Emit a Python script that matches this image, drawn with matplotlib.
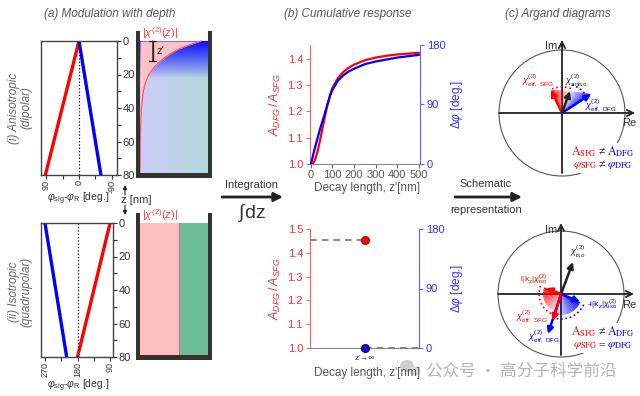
import numpy as np
import matplotlib.pyplot as plt
from matplotlib.patches import Polygon, Wedge, Arc, Rectangle, FancyArrowPatch, Ellipse

plt.rcParams['font.family'] = ['Liberation Sans', 'DejaVu Sans']
plt.rcParams['mathtext.fontset'] = 'custom'
plt.rcParams['mathtext.rm'] = 'Liberation Sans'
plt.rcParams['mathtext.it'] = 'Liberation Sans:italic'
plt.rcParams['mathtext.bf'] = 'Liberation Sans:bold'

# ---- data ----
# (a) phase offset vs depth
depth_nm = [0, 80]
z_ticks = [0, 20, 40, 60, 80]
aniso_red = [0, 92]
aniso_blue = [0, -60]
iso_red = [90, 180]
iso_blue = [270, 210]
# |chi2(z)| profile in the top cell (fraction of cell width vs depth)
prof_z = [0, 1, 2, 3, 5, 7, 10, 13, 16, 20, 25, 30, 35, 40, 50, 60, 80]
prof_w = [0.90, 0.82, 0.75, 0.68, 0.56, 0.47, 0.36, 0.27, 0.20, 0.13, 0.08, 0.05, 0.035, 0.022, 0.01, 0.005, 0.0]

# (b) cumulative response
decay_z = [0, 10, 20, 30, 40, 50, 60, 75, 90, 100, 125, 150, 175, 200, 250, 300, 350, 400, 450, 500]
amp_ratio = [1.0, 1.002, 1.018, 1.045, 1.08, 1.12, 1.16, 1.22, 1.265, 1.29, 1.327, 1.35, 1.366,
             1.378, 1.395, 1.405, 1.412, 1.417, 1.420, 1.423]
dphi = [0, 13, 26, 38, 50, 61, 71, 88, 104, 112, 126, 134, 140, 144, 151, 155, 158, 161, 163, 165]
inf_ratio = 1.454
inf_dphi = 0

# (c) Argand vectors, (Re, Im) tips
top_aniso = (8, 22)
top_sfg = (-11, 23)
top_dfg = (29, 19)
bot_iso = (12, 32)
bot_ik_sfg = (-15, 6)
bot_ik_dfg = (19, -8)
bot_sfg = (-8, -27)
bot_dfg = (-13, -40)

W, H = 640, 396
fig = plt.figure(figsize=(6.4, 3.96), dpi=100)
RED, BLUE = '#ff0000', '#0000ff'
GRAY = '#555555'


def px_axes(x0, y0, x1, y1):
    return fig.add_axes([x0 / W, 1 - y1 / H, (x1 - x0) / W, (y1 - y0) / H])


def ftext(x, y, s, **kw):
    kw.setdefault('ha', 'center')
    kw.setdefault('va', 'center')
    return fig.text(x / W, 1 - y / H, s, **kw)


def farrow(x0, y0, x1, y1, lw=1.0, ms=8, style='-|>'):
    fig.add_artist(FancyArrowPatch((x0 / W, 1 - y0 / H), (x1 / W, 1 - y1 / H),
                                   transform=fig.transFigure, arrowstyle=style,
                                   mutation_scale=ms, lw=lw, color='#222222',
                                   shrinkA=0, shrinkB=0))


# titles
ftext(110, 14, '(a) Modulation with depth', fontsize=8.5, style='italic', color=GRAY)
ftext(348, 14, '(b) Cumulative response', fontsize=8.5, style='italic', color=GRAY)
ftext(558, 14, '(c) Argand diagrams', fontsize=8.5, style='italic', color=GRAY)


# ---- (a) left phase plots ----
def phase_plot(rect, red, blue, xlim, xt, xminor, dot_x):
    ax = px_axes(*rect)
    ax.plot(red, depth_nm, color=RED, lw=2.4)
    ax.plot(blue, depth_nm, color=BLUE, lw=2.4)
    ax.axvline(dot_x, color='k', ls=':', lw=0.9)
    ax.set_xlim(*xlim)
    ax.set_ylim(80, 0)
    ax.set_xticks(xt)
    ax.set_xticks(xminor, minor=True)
    ax.set_xticklabels([str(v) for v in xt], rotation=90)
    ax.yaxis.tick_right()
    ax.set_yticks(z_ticks)
    ax.set_yticks([10, 30, 50, 70], minor=True)
    ax.tick_params(which='both', direction='out', colors='#333333', labelsize=8,
                   length=3, width=0.8, pad=1)
    ax.tick_params(axis='x', labelsize=6.5, pad=0.5)
    for s in ax.spines.values():
        s.set_color('#444444')
        s.set_linewidth(1.0)
    return ax


phase_plot((41, 41, 117, 175), aniso_red, aniso_blue, (104, -104), [90, 0, -90], [45, -45], 0)
phase_plot((41, 223, 113, 357), iso_red, iso_blue, (281, 82), [270, 180, 90], [225, 135], 180)

phi_lab = r'$\varphi_{\rm sig}$-$\varphi_{\rm R}$ [deg.]'
ftext(78, 199, phi_lab, fontsize=7.5, color='#333333')
ftext(78, 386, phi_lab, fontsize=7.5, color='#333333')
ftext(121, 200, 'z [nm]', fontsize=8, color='#333333', ha='left')
farrow(125, 195, 125, 185, lw=0.8, ms=6)
farrow(125, 205, 125, 215, lw=0.8, ms=6)

ftext(20, 108, '(i) Anisotropic\n(dipolar)', fontsize=8.5, style='italic', color='#666666',
      rotation=90, linespacing=1.1)
ftext(20, 292, '(ii) Isotropic\n(quadrupolar)', fontsize=8.5, style='italic', color='#666666',
      rotation=90, linespacing=1.1)


# ---- (a) cells ----
def cell_axes(y_top):
    ax = px_axes(136, y_top, 212, y_top + 147)
    ax.set_xlim(-4 / 68, 72 / 68)
    ax.set_ylim(137 / 1.675, -10 / 1.675)
    ax.axis('off')
    return ax


def cell_walls(ax):
    c = '#333333'
    ax.add_patch(Rectangle((-4 / 68, -6), 4 / 68, 88, color=c, zorder=5, lw=0))
    ax.add_patch(Rectangle((1.0, -6), 4 / 68, 88, color=c, zorder=5, lw=0))
    ax.add_patch(Rectangle((-4 / 68, 78.8), 72 / 68, 4, color=c, zorder=5, lw=0))


ax = cell_axes(31)
xx, zz = np.meshgrid(np.linspace(0, 1, 80), np.linspace(0, 80, 160))
base = np.stack([0.80 - 0.10 * xx, 0.80 + 0.05 * xx, 0.97 - 0.10 * xx], axis=-1)
wgt = np.clip(1 - zz / 22, 0, 1)[..., None] ** 0.9
img = base * (1 - wgt) + np.array([0.05, 0.05, 1.0]) * wgt
ax.imshow(img, extent=(0, 1, 80, 0), aspect='auto', interpolation='bilinear', zorder=1)
ax.fill_betweenx(prof_z, 0, prof_w, color='#ffc2c6', lw=0, zorder=2)
ax.plot(prof_w, prof_z, color='#ff5050', lw=0.8, zorder=3)
cell_walls(ax)
ax.annotate('', xy=(0.19, 0), xytext=(0.19, 12), zorder=6,
            arrowprops=dict(arrowstyle='|-|', color='#222222', lw=0.9, mutation_scale=2.5,
                            shrinkA=0, shrinkB=0))
ax.plot([0.19, 0.19], [0.5, 11.5], color='#222222', lw=0.9, zorder=6)
ax.text(0.24, 6, "z'", fontsize=8, color='#222222', va='center', zorder=6)
ax.text(0.03, -5, r'$|\chi^{(2)}(z)|$', fontsize=8, color='#ff4040', va='center', zorder=6)

ax = cell_axes(213)
ax.add_patch(Rectangle((0, 0), 0.57, 80, color='#ffbfbf', lw=0))
ax.add_patch(Rectangle((0.57, 0), 0.43, 80, color='#6cbf98', lw=0))
ax.plot([0.57, 0.57], [0, 80], color='#ff6060', lw=0.7)
cell_walls(ax)
ax.text(0.03, -5, r'$|\chi^{(2)}(z)|$', fontsize=8, color='#ff4040', va='center', zorder=6)

# ---- middle arrows ----
ftext(252, 185, 'Integration', fontsize=8, color='#333333')
farrow(222, 197, 283, 197, lw=2.0, ms=13)
ftext(252, 213, r'$\int$dz', fontsize=14, color='#333333')
ftext(486, 184, 'Schematic', fontsize=8, color='#333333')
farrow(455, 197, 522, 197, lw=2.0, ms=13)
ftext(486, 210, 'representation', fontsize=8, color='#333333')


# ---- (b) ----
def resp_axes(rect, ylim, yt):
    ax = px_axes(*rect)
    ax2 = ax.twinx()
    ax.set_ylim(*ylim)
    ax2.set_ylim(0, 180)
    ax.set_yticks(yt)
    ax.set_yticklabels(['%.1f' % v for v in yt])
    ax2.set_yticks([0, 90, 180])
    for a in (ax, ax2):
        a.spines['top'].set_visible(False)
    ax.spines['right'].set_visible(False)
    ax2.spines['left'].set_visible(False)
    ax2.spines['bottom'].set_visible(False)
    ax.spines['left'].set_color('#ff6060')
    ax2.spines['right'].set_color('#6060ff')
    ax.spines['bottom'].set_color('#888888')
    ax.tick_params(axis='y', colors='#ff6060', labelcolor='#ff3030', labelsize=8, length=3, pad=2)
    ax2.tick_params(axis='y', colors='#6060ff', labelcolor='#3030ff', labelsize=8, length=3, pad=2)
    ax.tick_params(axis='x', colors='#666666', labelcolor='#555555', labelsize=8, length=3, pad=1)
    ax.set_ylabel(r'$A_{DFG}\,/\,A_{SFG}$', color='#ff3030', fontsize=9)
    ax.yaxis.set_label_coords((283 - rect[0]) / (rect[2] - rect[0]), 0.5)
    ax2.set_ylabel(r'$\Delta\varphi$ [deg.]', color='#3030ff', fontsize=8.5, rotation=90)
    ax2.yaxis.set_label_coords((449 - rect[0]) / (rect[2] - rect[0]), 0.5)
    return ax, ax2


ax, ax2 = resp_axes((310, 45, 420, 164), (1.0, 1.453), [1.0, 1.1, 1.2, 1.3, 1.4])
ax.plot(decay_z, amp_ratio, color=RED, lw=1.6)
ax2.plot(decay_z, dphi, color=BLUE, lw=1.6)
ax.set_xlim(-4, 506)
ax2.set_xlim(-4, 506)
ax.set_xticks([0, 100, 200, 300, 400, 500])
ftext(367, 188, "Decay length, z'[nm]", fontsize=8.5, color=GRAY)

ax, ax2 = resp_axes((310, 229, 419, 348), (1.0, 1.5), [1.0, 1.1, 1.2, 1.3, 1.4, 1.5])
ax.set_xlim(0, 2)
ax2.set_xlim(0, 2)
ax.plot([0, 1], [inf_ratio, inf_ratio], ls=(0, (4, 3)), color='#777777', lw=1.2)
ax2.plot([1, 2], [inf_dphi, inf_dphi], ls=(0, (4, 3)), color='#777777', lw=1.2, clip_on=False)
ax.plot([1], [inf_ratio], 'o', color='#ee1111', mec='#bb0000', ms=5.5)
ax2.plot([1], [inf_dphi], 'o', color='#1111cc', mec='#000099', ms=5.5, clip_on=False, zorder=5)
ax.set_xticks([1])
ax.set_xticklabels(["z'→∞"], fontsize=6, color='#333333')
ax.tick_params(axis='x', colors='#222222', labelcolor='#333333', pad=2)
ftext(367, 373, "Decay length, z'[nm]", fontsize=8.5, color=GRAY)


# ---- (c) Argand diagrams ----
def argand_axes(rect, cx, cy, top_len, bot_len):
    x0, y0, x1, y1 = rect
    ax = px_axes(*rect)
    ax.set_xlim(x0 - cx, x1 - cx)
    ax.set_ylim(cy - y1, cy - y0)
    ax.axis('off')
    ax.add_patch(plt.Circle((0, 0), 63, fill=False, color='#555555', lw=0.8))
    ax.annotate('', xy=(73, 0), xytext=(-63, 0),
                arrowprops=dict(arrowstyle='->', color='#222222', lw=1.3, mutation_scale=11,
                                shrinkA=0, shrinkB=0))
    ax.annotate('', xy=(0, top_len), xytext=(0, -bot_len),
                arrowprops=dict(arrowstyle='->', color='#222222', lw=1.3, mutation_scale=11,
                                shrinkA=0, shrinkB=0))
    return ax


def vec(ax, tip, color, lw=1.8):
    ax.annotate('', xy=tip, xytext=(0, 0), zorder=6,
                arrowprops=dict(arrowstyle='-|>', color=color, lw=lw, mutation_scale=9,
                                shrinkA=0, shrinkB=0))


def tri_fan(ax, p_strong, p_weak, color, n=14):
    p_strong, p_weak = np.array(p_strong, float), np.array(p_weak, float)
    for i in range(n):
        a = p_strong + (p_weak - p_strong) * i / n
        b = p_strong + (p_weak - p_strong) * (i + 1) / n
        ax.add_patch(Polygon([(0, 0), a, b], closed=True, facecolor=color,
                             alpha=0.85 * (1 - i / n) + 0.05, lw=0, zorder=3))


def sec_fan(ax, r, th_strong, th_weak, color, n=14):
    for i in range(n):
        t0 = th_strong + (th_weak - th_strong) * i / n
        t1 = th_strong + (th_weak - th_strong) * (i + 1) / n
        ax.add_patch(Wedge((0, 0), r, min(t0, t1), max(t0, t1), facecolor=color,
                           alpha=0.85 * (1 - i / n) + 0.1, lw=0, zorder=3))


def ang(p):
    return np.degrees(np.arctan2(p[1], p[0]))


ax = argand_axes((480, 30, 640, 180), 562, 113, 73, 60)
tri_fan(ax, top_sfg, top_aniso, RED)
tri_fan(ax, top_dfg, top_aniso, BLUE)
ax.add_patch(Arc((0, 0), 52, 52, theta1=ang(top_aniso), theta2=ang(top_sfg), color=RED,
                 ls=':', lw=1.2, zorder=4))
ax.add_patch(Arc((0, 0), 60, 60, theta1=ang(top_dfg), theta2=ang(top_aniso), color=BLUE,
                 ls=':', lw=1.2, zorder=4))
vec(ax, top_sfg, RED)
vec(ax, top_dfg, BLUE)
vec(ax, top_aniso, '#222222')
ax.text(-11, 67, 'Im', fontsize=8, color='#333333', ha='center', va='center')
ax.text(67, -10, 'Re', fontsize=8, color='#333333', ha='center', va='center')
ax.text(-24, 32, r'$\chi^{(2)}_{\rm eff,\ SFG}$', fontsize=6.5, color=RED, ha='center', va='center')
ax.text(14, 32, r'$\chi^{(2)}_{\rm aniso}$', fontsize=6.5, color='#222222', ha='center', va='center')
ax.text(39, 7, r'$\chi^{(2)}_{\rm eff,\ DFG}$', fontsize=6.5, color=BLUE, ha='center', va='center')

ax = argand_axes((480, 215, 640, 365), 561, 294, 71, 61)
sfg_end = ang(bot_sfg) % 360
sec_fan(ax, 18, ang(bot_ik_sfg), sfg_end, RED)
sec_fan(ax, 21, ang(bot_ik_dfg), -100, BLUE)
ax.add_patch(Arc((0, 0), 44, 44, theta1=ang(bot_ik_sfg), theta2=sfg_end,
                 color=RED, ls=':', lw=1.2, zorder=4))
ax.add_patch(Arc((0, 0), 50, 50, theta1=-100, theta2=ang(bot_ik_dfg), color=BLUE,
                 ls=':', lw=1.2, zorder=4))
vec(ax, bot_iso, '#222222')
vec(ax, bot_ik_sfg, RED)
vec(ax, bot_ik_dfg, BLUE)
vec(ax, bot_dfg, BLUE)
vec(ax, bot_sfg, RED)
ax.text(-10, 64, 'Im', fontsize=8, color='#333333', ha='center', va='center')
ax.text(68, -11, 'Re', fontsize=8, color='#333333', ha='center', va='center')
ax.text(17, 42, r'$\chi^{(2)}_{\rm iso}$', fontsize=6.5, color='#222222', ha='center', va='center')
ax.text(-27, 14, r'i|k$_z$|$\chi^{(2)}_{\rm iso}$', fontsize=6, color=RED, ha='center', va='center')
ax.text(41, -11, r'-i|k$_z$|$\chi^{(2)}_{\rm iso}$', fontsize=6, color=BLUE, ha='center', va='center')
ax.text(-29, -23, r'$\chi^{(2)}_{\rm eff,\ SFG}$', fontsize=6.5, color=RED, ha='center', va='center')
ax.text(-17, -43, r'$\chi^{(2)}_{\rm eff,\ DFG}$', fontsize=6.5, color=BLUE, ha='center', va='center')


# relation boxes
def relation(y_top, sym2):
    fig.add_artist(Rectangle((572 / W, 1 - (y_top + 30) / H), 62 / W, 30 / H,
                             transform=fig.transFigure, facecolor='white', lw=0))
    rows = [(r'$\mathrm{A}_{\mathrm{SFG}}$', '≠', r'$\mathrm{A}_{\mathrm{DFG}}$'),
            (r'$\varphi_{\mathrm{SFG}}$', sym2, r'$\varphi_{\mathrm{DFG}}$')]
    for k, (a, s, b) in enumerate(rows):
        y = y_top + 9 + 13 * k
        ftext(597, y, a, fontsize=8.5, color=RED, ha='right', math_fontfamily='stix')
        ftext(602, y, s, fontsize=8.5, color='#222222', family=['Liberation Serif', 'DejaVu Serif'])
        ftext(607, y, b, fontsize=8.5, color=BLUE, ha='left', math_fontfamily='stix')


relation(143, '≠')
relation(323, '=')

# watermark
fig.add_artist(Ellipse((407 / W, 1 - 366 / H), 14 / W, 12 / H, transform=fig.transFigure,
                       color='#cfcfcf', lw=0))
fig.add_artist(Ellipse((415 / W, 1 - 371 / H), 11 / W, 9 / H, transform=fig.transFigure,
                       color='#dcdcdc', lw=0))
ftext(521, 371, '公众号 · 高分子科学前沿', fontsize=12, color='#b4b4b4',
      family=['Noto Sans CJK SC', 'DejaVu Sans'])

fig.savefig('out.png', dpi=100)
